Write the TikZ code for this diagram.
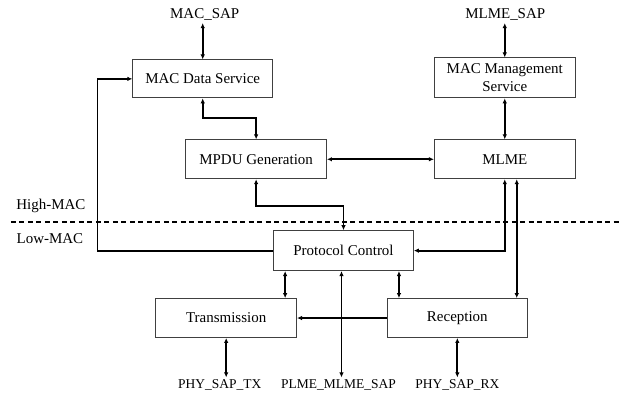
\documentclass[tikz,border=0pt]{standalone}
\usepackage{fontspec}
\setmainfont{Liberation Serif}
\usetikzlibrary{arrows.meta,calc,positioning}
\definecolor{macink}{HTML}{000000}
\definecolor{macframe}{HTML}{404040}
\newcommand{\macfont}{\fontsize{15}{18}\selectfont}
\tikzset{
  macblock/.style={draw=macframe,rectangle,fill=white,line width=0.9pt,
    minimum width=141pt,minimum height=39pt,inner sep=0pt,align=center,font=\macfont},
  saplabel/.style={inner sep=2pt,font=\macfont},
  physaplabel/.style={inner sep=2pt,font=\fontsize{13.5}{16}\selectfont},
  layerlabel/.style={inner sep=0pt,font=\macfont},
  macline/.style={draw=macink,line width=1.8pt},
  macarrow/.style={macline,-{Latex[length=5pt,width=4.5pt]}},
  macbiarrow/.style={macline,{Latex[length=5pt,width=4.5pt]}-{Latex[length=5pt,width=4.5pt]}},
}

\begin{document}
\begin{tikzpicture}[x=1pt,y=-1pt,
        layerline/.style={macline,dash pattern=on 5pt off 3.5pt}]
        % blocks
        \node[macblock,minimum width=140pt,minimum height=38pt] (macdata) at (203,79) {MAC Data Service};
        \node[macblock,minimum height=40pt] (macmgmt) at (505.5,78) {MAC Management\\Service};
        \node[macblock] (mpdu) at (256.5,159.5) {MPDU Generation};
        \node[macblock] (mlme) at (505.5,159.5) {MLME};
        \node[macblock,minimum width=140pt,minimum height=40pt] (protocol) at (344,251) {Protocol Control};
        \node[macblock] (trans) at (226.5,318.5) {Transmission};
        \node[macblock,minimum width=140pt] (recep) at (458,318.5) {Reception};
        % service access points
        \node[saplabel] (macsap) at (205,15) {MAC\_SAP};
        \node[saplabel] (mlmesap) at (506,15) {MLME\_SAP};
        \node[physaplabel] (phytx) at (220,385.5) {PHY\_SAP\_TX};
        \node[physaplabel] (plme) at (339,385.5) {PLME\_MLME\_SAP};
        \node[physaplabel] (phyrx) at (458,385.5) {PHY\_SAP\_RX};
        % layer split
        \node[layerlabel] (highmac) at (51,206) {High-MAC};
        \node[layerlabel] (lowmac) at (50,239) {Low-MAC};
        \coordinate (splitL) at (11,222);
        \coordinate (splitR) at (621,222);
        \draw[layerline] (splitL) -- (splitR);
        % connectors
        \draw[macbiarrow] (macdata.north |- macsap.south) -- (macdata.north);
        \draw[macbiarrow] (macmgmt.north |- mlmesap.south) -- (macmgmt.north);
        \draw[macbiarrow] (macdata.south) -- ++(0,20) -| (mpdu.north);
        \draw[macbiarrow] (macmgmt.south) -- (mlme.north);
        \draw[macbiarrow] (mpdu.east) -- (mlme.west);
        \draw[macbiarrow] (mpdu.south) -- ++(0,27) -| (protocol.north);
        \draw[macbiarrow] (mlme.south) |- (protocol.east);
        \coordinate (mlmeB) at ([xshift=12pt]mlme.south);
        \draw[macbiarrow] (mlmeB) -- (mlmeB |- recep.north);
        \draw[macarrow] (protocol.west) -- ++(-176,0) |- (macdata.west);
        \coordinate (pcA) at ([xshift=12pt]protocol.south west);
        \draw[macbiarrow] (pcA) -- (pcA |- trans.north);
        \coordinate (rcA) at ([xshift=12pt]recep.north west);
        \draw[macbiarrow] (rcA |- protocol.south) -- (rcA);
        \draw[macbiarrow] ([xshift=-2pt]protocol.south) -- ([xshift=-2pt]protocol.south |- plme.north);
        \draw[macarrow] (recep.west) -- (trans.east);
        \draw[macbiarrow] (trans.south) -- (trans.south |- phytx.north);
        \draw[macbiarrow] (recep.south) -- (recep.south |- phyrx.north);
        \path[use as bounding box] (0,0) rectangle (621,396);
      \end{tikzpicture}
\end{document}
